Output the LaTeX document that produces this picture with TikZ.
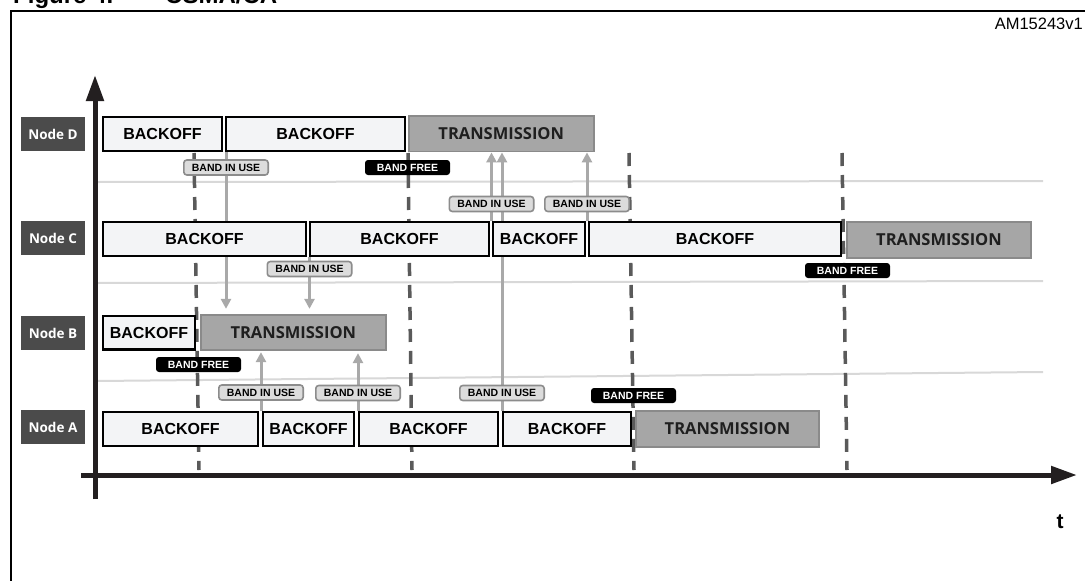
\documentclass[tikz,border=0pt]{standalone}
\usepackage{fontspec}
\setmainfont{Liberation Sans}
\newfontfamily\osans{Open Sans}
\usetikzlibrary{arrows.meta,calc}
\pgfdeclarelayer{bg}
\pgfdeclarelayer{paper}
\pgfsetlayers{paper,bg,main}
\definecolor{bofill}{HTML}{F3F4F6}
\definecolor{txfill}{HTML}{A6A6A6}
\definecolor{txdraw}{HTML}{8A8A8A}
\definecolor{nodegray}{HTML}{4B4B4B}
\definecolor{iufill}{HTML}{DCDCDC}
\definecolor{iudraw}{HTML}{8C8C8C}
\definecolor{garrowc}{HTML}{A9A9A9}
\definecolor{dashc}{HTML}{5A5A5A}
\definecolor{sepc}{HTML}{D8D8D8}
\definecolor{axisc}{HTML}{231F20}
\begin{document}
\begin{tikzpicture}[x=1pt,y=-1pt,
  box/.style={draw=black, line width=2.3pt, fill=bofill, minimum height=33.7pt, inner sep=0pt,
    font=\fontsize{16}{18}\selectfont\bfseries},
  txbox/.style={draw=txdraw, line width=1.8pt, fill=txfill, minimum height=35.5pt, inner sep=0pt,
    font=\osans\fontsize{16.5}{18}\selectfont\bfseries, text=black!88},
  nlab/.style={fill=nodegray, minimum width=64.6pt, minimum height=34pt, inner sep=0pt,
    text=white, font=\osans\fontsize{13.5}{15}\selectfont\bfseries},
  iu/.style={draw=iudraw, fill=iufill, line width=1.6pt, rounded corners=3pt, minimum width=84.4pt,
    minimum height=15pt, inner sep=0pt, font=\fontsize{10.5}{12}\selectfont\bfseries},
  bf/.style={fill=black, rounded corners=3pt, minimum width=85pt, minimum height=15pt, inner sep=0pt,
    text=white, font=\fontsize{10.5}{12}\selectfont\bfseries},
  garrow/.style={draw=garrowc, line width=3pt, -{Triangle[width=10pt,length=10pt]}},
  dashln/.style={draw=dashc, line width=3.5pt, dash pattern=on 13pt off 9pt},
  sepline/.style={draw=sepc, line width=2pt},
  axisln/.style={draw=axisc, line width=5pt, -{Triangle[width=17pt,length=26pt]}}
]
\useasboundingbox (0,0) rectangle (1085,581);
\begin{pgfonlayer}{paper}
\fill[white] (0,0) rectangle (1085,581);
\end{pgfonlayer}

% frame and titles
\coordinate (fbl) at (11,590);
\coordinate (ftl) at (11,11);
\coordinate (ftr) at (1095,11);
\draw[line width=2.5pt, line cap=rect] (fbl) -- (ftl) -- (ftr);
\node[anchor=base west, inner sep=0pt, font=\fontsize{24}{26}\selectfont\bfseries] (fig) at (13,3.5) {Figure 4.};
\node[anchor=base west, inner sep=0pt, font=\fontsize{24}{26}\selectfont\bfseries] (ttl) at (165,3.5) {CSMA/CA};
\node[anchor=base east, inner sep=0pt, font=\fontsize{16.5}{18}\selectfont] (code) at (1083,29.5) {AM15243v1};

% node labels
\node[nlab] (nD) at (53,134) {Node D};
\node[nlab] (nC) at (53,238) {Node C};
\node[nlab] (nB) at (53,333.3) {Node B};
\node[nlab] (nA) at (53,427) {Node A};

% row D
\node[box, minimum width=118.7pt] (dD1) at (162.5,134) {BACKOFF};
\node[box, minimum width=178.7pt] (dD2) at (315.5,134) {BACKOFF};
\node[txbox, minimum width=184.7pt] (dD3) at (501.25,133.75) {TRANSMISSION};
% row C
\node[box, minimum width=202.7pt] (cC1) at (204.5,239) {BACKOFF};
\node[box, minimum width=178.7pt] (cC2) at (399.5,239) {BACKOFF};
\node[box, minimum width=91.7pt] (cC3) at (539,239) {BACKOFF};
\node[box, minimum width=251.7pt] (cC4) at (715,239) {BACKOFF};
\node[txbox, minimum width=184.2pt] (cC5) at (939,240) {TRANSMISSION};
% row B
\node[box, minimum width=91.7pt] (bB1) at (149,332.5) {BACKOFF};
\node[txbox, minimum width=184.9pt] (bB2) at (293.3,332.5) {TRANSMISSION};
% row A
\node[box, minimum width=155pt] (aA1) at (180.6,429) {BACKOFF};
\node[box, minimum width=91pt] (aA2) at (308.6,429) {BACKOFF};
\node[box, minimum width=138.7pt] (aA3) at (428.5,429) {BACKOFF};
\node[box, minimum width=128.3pt] (aA4) at (567,429) {BACKOFF};
\node[txbox, minimum width=183.2pt] (aA5) at (727.5,429) {TRANSMISSION};

% labels
\node[iu] (iu1) at (226,167.5) {BAND IN USE};
\node[iu] (iu2) at (309.5,269) {BAND IN USE};
\node[iu] (iu3) at (261,392.5) {BAND IN USE};
\node[iu] (iu4) at (358,393) {BAND IN USE};
\node[iu] (iu5) at (502,393) {BAND IN USE};
\node[iu] (iu6) at (491.5,204) {BAND IN USE};
\node[iu] (iu7) at (587,204) {BAND IN USE};
\node[bf] (bf1) at (407.5,167.5) {BAND FREE};
\node[bf] (bf2) at (198.5,364.5) {BAND FREE};
\node[bf] (bf3) at (633.5,395.5) {BAND FREE};
\node[bf] (bf4) at (847.5,270.5) {BAND FREE};

% axes
\coordinate (yb) at (95,499);
\coordinate (yt) at (95,75);
\coordinate (xl) at (81,475);
\coordinate (xr) at (1077,475);
\draw[axisln] (yb) -- (yt);
\draw[axisln] (xl) -- (xr);
\node[inner sep=0pt, font=\fontsize{21}{23}\selectfont\bfseries] (tl) at (1060,522) {t};

\begin{pgfonlayer}{bg}
  \coordinate (s1a) at (97,182); \coordinate (s1b) at (1043,181);
  \coordinate (s2a) at (97,283); \coordinate (s2b) at (1043,281);
  \coordinate (s3a) at (97,381); \coordinate (s3b) at (1043,372);
  \draw[sepline] (s1a) -- (s1b);
  \draw[sepline] (s2a) -- (s2b);
  \draw[sepline] (s3a) -- (s3b);
  \coordinate (d1a) at (194,153); \coordinate (d1b) at (199,470);
  \coordinate (d2a) at (408,153); \coordinate (d2b) at (412,470);
  \coordinate (d3a) at (629,153); \coordinate (d3b) at (634,470);
  \coordinate (d4a) at (842,153); \coordinate (d4b) at (847,470);
  \draw[dashln] (d1a) -- (d1b);
  \draw[dashln] (d2a) -- (d2b);
  \draw[dashln] (d3a) -- (d3b);
  \draw[dashln] (d4a) -- (d4b);
  \draw[garrow, shorten >=5pt] (iu1 |- dD1.south) -- (iu1 |- bB2.north);
  \draw[garrow, shorten >=5pt] (iu2 |- cC1.south) -- (iu2 |- bB2.north);
  \draw[garrow, shorten >=1pt] (iu3 |- aA1.north) -- (iu3 |- bB2.south);
  \draw[garrow, shorten >=2pt] (iu4 |- aA2.north) -- (iu4 |- bB2.south);
  \draw[garrow] (iu5 |- aA4.north) -- (iu5 |- dD3.south);
  \draw[garrow] (iu6 |- cC3.north) -- (iu6 |- dD3.south);
  \draw[garrow] (iu7 |- cC4.north) -- (iu7 |- dD3.south);
\end{pgfonlayer}
\end{tikzpicture}
\end{document}
